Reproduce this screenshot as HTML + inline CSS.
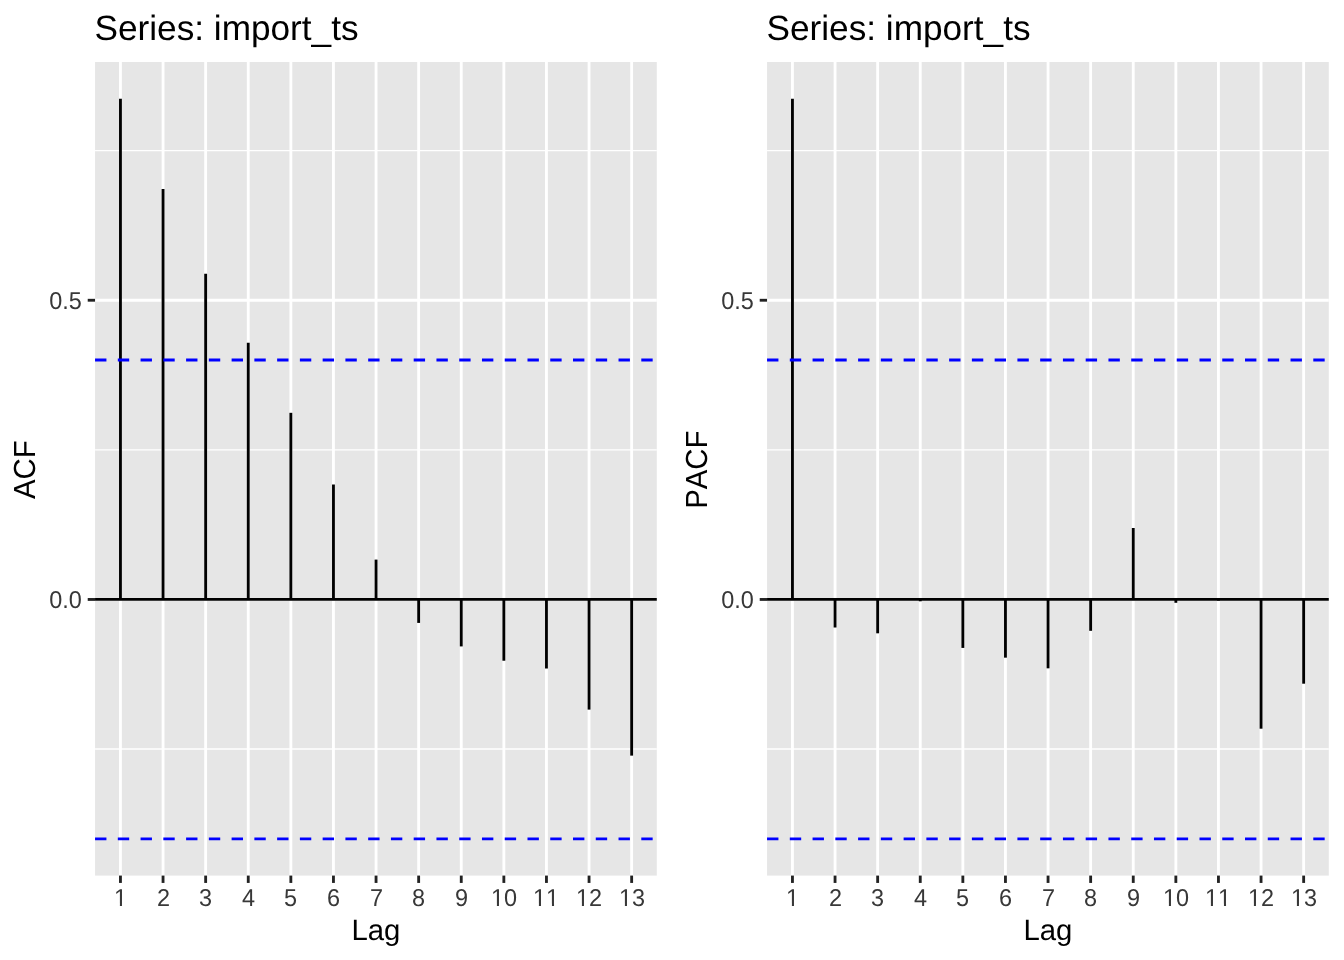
<!DOCTYPE html>
<html><head><meta charset="utf-8"><title>ACF / PACF</title>
<style>html,body{margin:0;padding:0;background:#fff;width:1344px;height:960px;overflow:hidden}svg{display:block;will-change:transform} text{text-rendering:geometricPrecision;font-kerning:none}</style>
</head><body>
<svg width="1344" height="960" viewBox="0 0 1344 960" font-family='"Liberation Sans", sans-serif'>
<rect width="1344" height="960" fill="#fff"/>
<rect x="95.05" y="62.00" width="561.75" height="813.60" fill="#E6E6E6"/>
<line x1="95.05" x2="656.80" y1="749.05" y2="749.05" stroke="#fff" stroke-width="1.4225"/>
<line x1="95.05" x2="656.80" y1="449.85" y2="449.85" stroke="#fff" stroke-width="1.4225"/>
<line x1="95.05" x2="656.80" y1="150.65" y2="150.65" stroke="#fff" stroke-width="1.4225"/>
<line x1="95.05" x2="656.80" y1="599.45" y2="599.45" stroke="#fff" stroke-width="2.845"/>
<line x1="95.05" x2="656.80" y1="300.25" y2="300.25" stroke="#fff" stroke-width="2.845"/>
<line x1="120.45" x2="120.45" y1="62.00" y2="875.60" stroke="#fff" stroke-width="2.845"/>
<line x1="163.05" x2="163.05" y1="62.00" y2="875.60" stroke="#fff" stroke-width="2.845"/>
<line x1="205.65" x2="205.65" y1="62.00" y2="875.60" stroke="#fff" stroke-width="2.845"/>
<line x1="248.25" x2="248.25" y1="62.00" y2="875.60" stroke="#fff" stroke-width="2.845"/>
<line x1="290.85" x2="290.85" y1="62.00" y2="875.60" stroke="#fff" stroke-width="2.845"/>
<line x1="333.45" x2="333.45" y1="62.00" y2="875.60" stroke="#fff" stroke-width="2.845"/>
<line x1="376.05" x2="376.05" y1="62.00" y2="875.60" stroke="#fff" stroke-width="2.845"/>
<line x1="418.65" x2="418.65" y1="62.00" y2="875.60" stroke="#fff" stroke-width="2.845"/>
<line x1="461.25" x2="461.25" y1="62.00" y2="875.60" stroke="#fff" stroke-width="2.845"/>
<line x1="503.85" x2="503.85" y1="62.00" y2="875.60" stroke="#fff" stroke-width="2.845"/>
<line x1="546.45" x2="546.45" y1="62.00" y2="875.60" stroke="#fff" stroke-width="2.845"/>
<line x1="589.05" x2="589.05" y1="62.00" y2="875.60" stroke="#fff" stroke-width="2.845"/>
<line x1="631.65" x2="631.65" y1="62.00" y2="875.60" stroke="#fff" stroke-width="2.845"/>
<line x1="95.05" x2="656.80" y1="599.45" y2="599.45" stroke="#000" stroke-width="2.845"/>
<line x1="120.45" x2="120.45" y1="599.45" y2="98.83" stroke="#000" stroke-width="2.845"/>
<line x1="163.05" x2="163.05" y1="599.45" y2="188.89" stroke="#000" stroke-width="2.845"/>
<line x1="205.65" x2="205.65" y1="599.45" y2="273.80" stroke="#000" stroke-width="2.845"/>
<line x1="248.25" x2="248.25" y1="599.45" y2="342.80" stroke="#000" stroke-width="2.845"/>
<line x1="290.85" x2="290.85" y1="599.45" y2="412.81" stroke="#000" stroke-width="2.845"/>
<line x1="333.45" x2="333.45" y1="599.45" y2="484.50" stroke="#000" stroke-width="2.845"/>
<line x1="376.05" x2="376.05" y1="599.45" y2="559.60" stroke="#000" stroke-width="2.845"/>
<line x1="418.65" x2="418.65" y1="599.45" y2="622.91" stroke="#000" stroke-width="2.845"/>
<line x1="461.25" x2="461.25" y1="599.45" y2="646.42" stroke="#000" stroke-width="2.845"/>
<line x1="503.85" x2="503.85" y1="599.45" y2="660.73" stroke="#000" stroke-width="2.845"/>
<line x1="546.45" x2="546.45" y1="599.45" y2="668.51" stroke="#000" stroke-width="2.845"/>
<line x1="589.05" x2="589.05" y1="599.45" y2="709.62" stroke="#000" stroke-width="2.845"/>
<line x1="631.65" x2="631.65" y1="599.45" y2="755.63" stroke="#000" stroke-width="2.845"/>
<line x1="95.05" x2="656.80" y1="360.04" y2="360.04" stroke="#0000FF" stroke-width="2.845" stroke-dasharray="11.38 11.38"/>
<line x1="95.05" x2="656.80" y1="838.86" y2="838.86" stroke="#0000FF" stroke-width="2.845" stroke-dasharray="11.38 11.38"/>
<line x1="87.72" x2="95.05" y1="599.45" y2="599.45" stroke="#222222" stroke-width="2.845"/>
<text transform="translate(81.85,608.19) scale(1,1.04)" text-anchor="end" font-size="23.47" fill="#383838">0.0</text>
<line x1="87.72" x2="95.05" y1="300.25" y2="300.25" stroke="#222222" stroke-width="2.845"/>
<text transform="translate(81.85,308.99) scale(1,1.04)" text-anchor="end" font-size="23.47" fill="#383838">0.5</text>
<line x1="120.45" x2="120.45" y1="875.60" y2="882.93" stroke="#222222" stroke-width="2.845"/>
<text transform="translate(114,905.90) scale(1,1.04)" font-size="23.47" fill="#383838">1</text>
<line x1="163.05" x2="163.05" y1="875.60" y2="882.93" stroke="#222222" stroke-width="2.845"/>
<text transform="translate(157,905.90) scale(1,1.04)" font-size="23.47" fill="#383838">2</text>
<line x1="205.65" x2="205.65" y1="875.60" y2="882.93" stroke="#222222" stroke-width="2.845"/>
<text transform="translate(199,905.90) scale(1,1.04)" font-size="23.47" fill="#383838">3</text>
<line x1="248.25" x2="248.25" y1="875.60" y2="882.93" stroke="#222222" stroke-width="2.845"/>
<text transform="translate(242,905.90) scale(1,1.04)" font-size="23.47" fill="#383838">4</text>
<line x1="290.85" x2="290.85" y1="875.60" y2="882.93" stroke="#222222" stroke-width="2.845"/>
<text transform="translate(284,905.90) scale(1,1.04)" font-size="23.47" fill="#383838">5</text>
<line x1="333.45" x2="333.45" y1="875.60" y2="882.93" stroke="#222222" stroke-width="2.845"/>
<text transform="translate(327,905.90) scale(1,1.04)" font-size="23.47" fill="#383838">6</text>
<line x1="376.05" x2="376.05" y1="875.60" y2="882.93" stroke="#222222" stroke-width="2.845"/>
<text transform="translate(370,905.90) scale(1,1.04)" font-size="23.47" fill="#383838">7</text>
<line x1="418.65" x2="418.65" y1="875.60" y2="882.93" stroke="#222222" stroke-width="2.845"/>
<text transform="translate(412,905.90) scale(1,1.04)" font-size="23.47" fill="#383838">8</text>
<line x1="461.25" x2="461.25" y1="875.60" y2="882.93" stroke="#222222" stroke-width="2.845"/>
<text transform="translate(455,905.90) scale(1,1.04)" font-size="23.47" fill="#383838">9</text>
<line x1="503.85" x2="503.85" y1="875.60" y2="882.93" stroke="#222222" stroke-width="2.845"/>
<text transform="translate(491,905.90) scale(1,1.04)" font-size="23.47" fill="#383838">10</text>
<line x1="546.45" x2="546.45" y1="875.60" y2="882.93" stroke="#222222" stroke-width="2.845"/>
<text transform="translate(533,905.90) scale(1,1.04)" font-size="23.47" fill="#383838">11</text>
<line x1="589.05" x2="589.05" y1="875.60" y2="882.93" stroke="#222222" stroke-width="2.845"/>
<text transform="translate(576,905.90) scale(1,1.04)" font-size="23.47" fill="#383838">12</text>
<line x1="631.65" x2="631.65" y1="875.60" y2="882.93" stroke="#222222" stroke-width="2.845"/>
<text transform="translate(619,905.90) scale(1,1.04)" font-size="23.47" fill="#383838">13</text>
<text x="375.92" y="939.50" text-anchor="middle" font-size="29.33" fill="#000">Lag</text>
<text transform="translate(35.10,469.70) rotate(-90) scale(1,1.04)" x="0" y="0" text-anchor="middle" font-size="29.33" fill="#000">ACF</text>
<text x="94.55" y="39.87" font-size="35.20" fill="#000">Series: import_ts</text>
<rect x="114.69" y="903.73" width="5.21" height="2.97" fill="#fff"/>
<rect x="121.97" y="903.73" width="4.63" height="2.97" fill="#fff"/>
<rect x="491.69" y="903.73" width="5.21" height="2.97" fill="#fff"/>
<rect x="498.98" y="903.73" width="4.63" height="2.97" fill="#fff"/>
<rect x="533.69" y="903.73" width="5.21" height="2.97" fill="#fff"/>
<rect x="540.98" y="903.73" width="4.63" height="2.97" fill="#fff"/>
<rect x="546.74" y="903.73" width="5.21" height="2.97" fill="#fff"/>
<rect x="554.03" y="903.73" width="4.63" height="2.97" fill="#fff"/>
<rect x="576.69" y="903.73" width="5.21" height="2.97" fill="#fff"/>
<rect x="583.98" y="903.73" width="4.63" height="2.97" fill="#fff"/>
<rect x="619.69" y="903.73" width="5.21" height="2.97" fill="#fff"/>
<rect x="626.98" y="903.73" width="4.63" height="2.97" fill="#fff"/>
<rect x="767.05" y="62.00" width="561.75" height="813.60" fill="#E6E6E6"/>
<line x1="767.05" x2="1328.80" y1="749.05" y2="749.05" stroke="#fff" stroke-width="1.4225"/>
<line x1="767.05" x2="1328.80" y1="449.85" y2="449.85" stroke="#fff" stroke-width="1.4225"/>
<line x1="767.05" x2="1328.80" y1="150.65" y2="150.65" stroke="#fff" stroke-width="1.4225"/>
<line x1="767.05" x2="1328.80" y1="599.45" y2="599.45" stroke="#fff" stroke-width="2.845"/>
<line x1="767.05" x2="1328.80" y1="300.25" y2="300.25" stroke="#fff" stroke-width="2.845"/>
<line x1="792.45" x2="792.45" y1="62.00" y2="875.60" stroke="#fff" stroke-width="2.845"/>
<line x1="835.05" x2="835.05" y1="62.00" y2="875.60" stroke="#fff" stroke-width="2.845"/>
<line x1="877.65" x2="877.65" y1="62.00" y2="875.60" stroke="#fff" stroke-width="2.845"/>
<line x1="920.25" x2="920.25" y1="62.00" y2="875.60" stroke="#fff" stroke-width="2.845"/>
<line x1="962.85" x2="962.85" y1="62.00" y2="875.60" stroke="#fff" stroke-width="2.845"/>
<line x1="1005.45" x2="1005.45" y1="62.00" y2="875.60" stroke="#fff" stroke-width="2.845"/>
<line x1="1048.05" x2="1048.05" y1="62.00" y2="875.60" stroke="#fff" stroke-width="2.845"/>
<line x1="1090.65" x2="1090.65" y1="62.00" y2="875.60" stroke="#fff" stroke-width="2.845"/>
<line x1="1133.25" x2="1133.25" y1="62.00" y2="875.60" stroke="#fff" stroke-width="2.845"/>
<line x1="1175.85" x2="1175.85" y1="62.00" y2="875.60" stroke="#fff" stroke-width="2.845"/>
<line x1="1218.45" x2="1218.45" y1="62.00" y2="875.60" stroke="#fff" stroke-width="2.845"/>
<line x1="1261.05" x2="1261.05" y1="62.00" y2="875.60" stroke="#fff" stroke-width="2.845"/>
<line x1="1303.65" x2="1303.65" y1="62.00" y2="875.60" stroke="#fff" stroke-width="2.845"/>
<line x1="767.05" x2="1328.80" y1="599.45" y2="599.45" stroke="#000" stroke-width="2.845"/>
<line x1="792.45" x2="792.45" y1="599.45" y2="98.83" stroke="#000" stroke-width="2.845"/>
<line x1="835.05" x2="835.05" y1="599.45" y2="627.51" stroke="#000" stroke-width="2.845"/>
<line x1="877.65" x2="877.65" y1="599.45" y2="633.32" stroke="#000" stroke-width="2.845"/>
<line x1="920.25" x2="920.25" y1="599.45" y2="601.31" stroke="#000" stroke-width="2.845"/>
<line x1="962.85" x2="962.85" y1="599.45" y2="647.92" stroke="#000" stroke-width="2.845"/>
<line x1="1005.45" x2="1005.45" y1="599.45" y2="657.67" stroke="#000" stroke-width="2.845"/>
<line x1="1048.05" x2="1048.05" y1="599.45" y2="668.33" stroke="#000" stroke-width="2.845"/>
<line x1="1090.65" x2="1090.65" y1="599.45" y2="630.81" stroke="#000" stroke-width="2.845"/>
<line x1="1133.25" x2="1133.25" y1="599.45" y2="528.00" stroke="#000" stroke-width="2.845"/>
<line x1="1175.85" x2="1175.85" y1="599.45" y2="602.80" stroke="#000" stroke-width="2.845"/>
<line x1="1218.45" x2="1218.45" y1="599.45" y2="600.59" stroke="#000" stroke-width="2.845"/>
<line x1="1261.05" x2="1261.05" y1="599.45" y2="728.70" stroke="#000" stroke-width="2.845"/>
<line x1="1303.65" x2="1303.65" y1="599.45" y2="683.70" stroke="#000" stroke-width="2.845"/>
<line x1="767.05" x2="1328.80" y1="360.04" y2="360.04" stroke="#0000FF" stroke-width="2.845" stroke-dasharray="11.38 11.38"/>
<line x1="767.05" x2="1328.80" y1="838.86" y2="838.86" stroke="#0000FF" stroke-width="2.845" stroke-dasharray="11.38 11.38"/>
<line x1="759.72" x2="767.05" y1="599.45" y2="599.45" stroke="#222222" stroke-width="2.845"/>
<text transform="translate(753.85,608.19) scale(1,1.04)" text-anchor="end" font-size="23.47" fill="#383838">0.0</text>
<line x1="759.72" x2="767.05" y1="300.25" y2="300.25" stroke="#222222" stroke-width="2.845"/>
<text transform="translate(753.85,308.99) scale(1,1.04)" text-anchor="end" font-size="23.47" fill="#383838">0.5</text>
<line x1="792.45" x2="792.45" y1="875.60" y2="882.93" stroke="#222222" stroke-width="2.845"/>
<text transform="translate(786,905.90) scale(1,1.04)" font-size="23.47" fill="#383838">1</text>
<line x1="835.05" x2="835.05" y1="875.60" y2="882.93" stroke="#222222" stroke-width="2.845"/>
<text transform="translate(829,905.90) scale(1,1.04)" font-size="23.47" fill="#383838">2</text>
<line x1="877.65" x2="877.65" y1="875.60" y2="882.93" stroke="#222222" stroke-width="2.845"/>
<text transform="translate(871,905.90) scale(1,1.04)" font-size="23.47" fill="#383838">3</text>
<line x1="920.25" x2="920.25" y1="875.60" y2="882.93" stroke="#222222" stroke-width="2.845"/>
<text transform="translate(914,905.90) scale(1,1.04)" font-size="23.47" fill="#383838">4</text>
<line x1="962.85" x2="962.85" y1="875.60" y2="882.93" stroke="#222222" stroke-width="2.845"/>
<text transform="translate(956,905.90) scale(1,1.04)" font-size="23.47" fill="#383838">5</text>
<line x1="1005.45" x2="1005.45" y1="875.60" y2="882.93" stroke="#222222" stroke-width="2.845"/>
<text transform="translate(999,905.90) scale(1,1.04)" font-size="23.47" fill="#383838">6</text>
<line x1="1048.05" x2="1048.05" y1="875.60" y2="882.93" stroke="#222222" stroke-width="2.845"/>
<text transform="translate(1042,905.90) scale(1,1.04)" font-size="23.47" fill="#383838">7</text>
<line x1="1090.65" x2="1090.65" y1="875.60" y2="882.93" stroke="#222222" stroke-width="2.845"/>
<text transform="translate(1084,905.90) scale(1,1.04)" font-size="23.47" fill="#383838">8</text>
<line x1="1133.25" x2="1133.25" y1="875.60" y2="882.93" stroke="#222222" stroke-width="2.845"/>
<text transform="translate(1127,905.90) scale(1,1.04)" font-size="23.47" fill="#383838">9</text>
<line x1="1175.85" x2="1175.85" y1="875.60" y2="882.93" stroke="#222222" stroke-width="2.845"/>
<text transform="translate(1163,905.90) scale(1,1.04)" font-size="23.47" fill="#383838">10</text>
<line x1="1218.45" x2="1218.45" y1="875.60" y2="882.93" stroke="#222222" stroke-width="2.845"/>
<text transform="translate(1205,905.90) scale(1,1.04)" font-size="23.47" fill="#383838">11</text>
<line x1="1261.05" x2="1261.05" y1="875.60" y2="882.93" stroke="#222222" stroke-width="2.845"/>
<text transform="translate(1248,905.90) scale(1,1.04)" font-size="23.47" fill="#383838">12</text>
<line x1="1303.65" x2="1303.65" y1="875.60" y2="882.93" stroke="#222222" stroke-width="2.845"/>
<text transform="translate(1291,905.90) scale(1,1.04)" font-size="23.47" fill="#383838">13</text>
<text x="1047.92" y="939.50" text-anchor="middle" font-size="29.33" fill="#000">Lag</text>
<text transform="translate(707.10,469.70) rotate(-90) scale(1,1.04)" x="0" y="0" text-anchor="middle" font-size="29.33" fill="#000">PACF</text>
<text x="766.55" y="39.87" font-size="35.20" fill="#000">Series: import_ts</text>
<rect x="786.69" y="903.73" width="5.21" height="2.97" fill="#fff"/>
<rect x="793.98" y="903.73" width="4.63" height="2.97" fill="#fff"/>
<rect x="1163.69" y="903.73" width="5.21" height="2.97" fill="#fff"/>
<rect x="1170.97" y="903.73" width="4.63" height="2.97" fill="#fff"/>
<rect x="1205.69" y="903.73" width="5.21" height="2.97" fill="#fff"/>
<rect x="1212.97" y="903.73" width="4.63" height="2.97" fill="#fff"/>
<rect x="1218.74" y="903.73" width="5.21" height="2.97" fill="#fff"/>
<rect x="1226.03" y="903.73" width="4.63" height="2.97" fill="#fff"/>
<rect x="1248.69" y="903.73" width="5.21" height="2.97" fill="#fff"/>
<rect x="1255.97" y="903.73" width="4.63" height="2.97" fill="#fff"/>
<rect x="1291.69" y="903.73" width="5.21" height="2.97" fill="#fff"/>
<rect x="1298.97" y="903.73" width="4.63" height="2.97" fill="#fff"/>
</svg>
</body></html>
